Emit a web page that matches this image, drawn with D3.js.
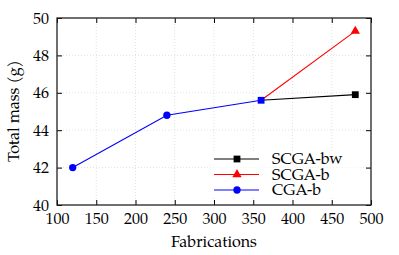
<!DOCTYPE html>
<html><head><meta charset="utf-8">
<script src="https://cdn.jsdelivr.net/npm/d3@7"></script>
<style>body{margin:0;background:#fff}svg{display:block}text{font-family:"TeX Gyre Pagella","Palatino Linotype","Liberation Serif","DejaVu Serif",serif;fill:#000}</style>
</head><body><svg id="c" width="399" height="255"></svg>
<script>
const xTicks = [100,150,200,250,300,350,400,450,500];
const yTicks = [40,42,44,46,48,50];
const cgaX = [120,240,360];
const cgaY = [42.0,44.8,45.6];
const scgabX = [360,480];
const scgabY = [45.6,49.3];
const scgabwX = [360,480];
const scgabwY = [45.6,45.9];
const legendNames = ["SCGA-bw","SCGA-b","CGA-b"];

const svg = d3.select("#c");
const L=57,R=371,T=18,B=205;
const x = d3.scaleLinear().domain([100,500]).range([L,R]);
const y = d3.scaleLinear().domain([40,50]).range([B,T]);

// grid
const g = svg.append("g");
g.selectAll(".gx").data(xTicks.slice(1,-1)).enter().append("line")
 .attr("x1",d=>x(d)).attr("x2",d=>x(d)).attr("y1",T).attr("y2",B)
 .attr("stroke","#ccc").attr("stroke-width",0.6).attr("stroke-dasharray","1,2");
g.selectAll(".gy").data(yTicks.slice(1,-1)).enter().append("line")
 .attr("y1",d=>y(d)).attr("y2",d=>y(d)).attr("x1",L).attr("x2",R)
 .attr("stroke","#ccc").attr("stroke-width",0.6).attr("stroke-dasharray","1,2");

// axes
const ax = (gen, tr) => svg.append("g").attr("transform",tr).call(gen)
  .call(s=>s.select(".domain").remove())
  .call(s=>s.selectAll("line").attr("stroke","#000").attr("stroke-width",1));
const xb = ax(d3.axisBottom(x).tickValues(xTicks).tickSize(-5).tickPadding(9).tickFormat(d3.format("d")), `translate(0,${B})`);
xb.selectAll("text").attr("font-size",16).attr("dy","0.6em");
ax(d3.axisTop(x).tickValues(xTicks).tickSize(-5).tickFormat(""), `translate(0,${T})`);
const yl = ax(d3.axisLeft(y).tickValues(yTicks).tickSize(-5).tickPadding(8).tickFormat(d3.format("d")), `translate(${L},0)`);
yl.selectAll("text").attr("font-size",16);
ax(d3.axisRight(y).tickValues(yTicks).tickSize(-5).tickFormat(""), `translate(${R},0)`);

svg.append("rect").attr("x",L).attr("y",T).attr("width",R-L).attr("height",B-T)
 .attr("fill","none").attr("stroke","#222").attr("stroke-width",1.3);

const line = d3.line().x(d=>x(d[0])).y(d=>y(d[1]));
const zip = (a,b)=>a.map((v,i)=>[v,b[i]]);

const bw = zip(scgabwX,scgabwY), sb = zip(scgabX,scgabY), cg = zip(cgaX,cgaY);
svg.append("path").datum(bw).attr("d",line).attr("fill","none").attr("stroke","#000").attr("stroke-width",1.1);
svg.append("path").datum(sb).attr("d",line).attr("fill","none").attr("stroke","#f00").attr("stroke-width",1.1);
svg.append("path").datum(cg).attr("d",line).attr("fill","none").attr("stroke","#00f").attr("stroke-width",1.1);

const sq = d3.symbol().type(d3.symbolSquare).size(46);
const tri = d3.symbol().type(d3.symbolTriangle).size(38);
const cir = d3.symbol().type(d3.symbolCircle).size(42);
svg.selectAll(".m1").data(bw.slice(1)).enter().append("path").attr("d",sq)
 .attr("transform",d=>`translate(${x(d[0])},${y(d[1])})`).attr("fill","#000");
svg.selectAll(".m2").data(sb.slice(1)).enter().append("path").attr("d",tri)
 .attr("transform",d=>`translate(${x(d[0])},${y(d[1])})`).attr("fill","#f00");
svg.selectAll(".m3").data(cg.slice(0,2)).enter().append("path").attr("d",cir)
 .attr("transform",d=>`translate(${x(d[0])},${y(d[1])})`).attr("fill","#00f");
svg.selectAll(".m4").data(bw.slice(0,1)).enter().append("path").attr("d",sq)
 .attr("transform",d=>`translate(${x(d[0])},${y(d[1])})`).attr("fill","#00f");

// legend
const colors = ["#000","#f00","#00f"], syms=[sq,tri,cir];
const lg = svg.append("g");
legendNames.forEach((n,i)=>{
  const yy = 159 + i*15.5;
  lg.append("rect").attr("x",211).attr("y",yy-7).attr("width",150).attr("height",15).attr("fill","#fff");
});
legendNames.forEach((n,i)=>{
  const yy = 159 + i*15.5;
  lg.append("line").attr("x1",214).attr("x2",259).attr("y1",yy).attr("y2",yy).attr("stroke",colors[i]).attr("stroke-width",1.1);
  lg.append("path").attr("d",syms[i]).attr("transform",`translate(237,${yy})`).attr("fill",colors[i]);
  lg.append("text").attr("x",272).attr("y",yy).attr("dy","0.33em").attr("font-size",16).text(n);
});

svg.append("text").attr("x",214).attr("y",247).attr("text-anchor","middle").attr("font-size",16).text("Fabrications");
svg.append("text").attr("transform","translate(19,111) rotate(-90)").attr("text-anchor","middle").attr("font-size",16).text("Total mass (g)");
</script></body></html>
